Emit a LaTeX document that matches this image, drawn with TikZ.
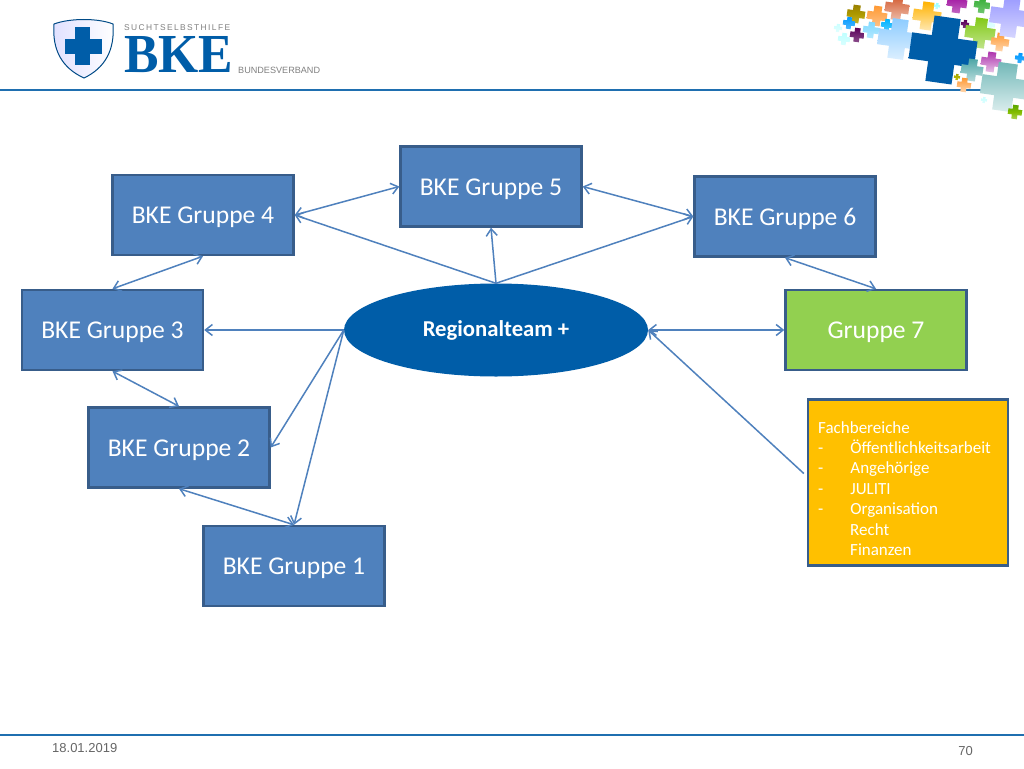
\documentclass[tikz,border=0pt]{standalone}
\usepackage{fontspec}
\setmainfont{Carlito}
\newfontfamily\arialf{Liberation Sans}
\newfontfamily\logof{Liberation Serif}
\usetikzlibrary{arrows.meta,shapes.geometric,calc}
\definecolor{boxfill}{HTML}{4F81BD}
\definecolor{boxline}{HTML}{385D8A}
\definecolor{bkeblue}{HTML}{005DA8}
\definecolor{rule}{HTML}{1F6FB0}
\definecolor{greenf}{HTML}{92D050}
\definecolor{amber}{HTML}{FFC000}
\tikzset{
 x=1pt,y=-1pt,
 gbox/.style={draw=boxline,line width=2.4pt,fill=boxfill,text=white,minimum width=181pt,minimum height=80pt,inner sep=0pt,text height=20pt,text depth=2.6pt,font=\fontsize{25.6}{30}\selectfont},
 link/.style={draw=boxfill,line width=1.5pt},
 both/.style={link,{Straight Barb[length=7pt,width=11pt]}-{Straight Barb[length=7pt,width=11pt]}},
 one/.style={link,-{Straight Barb[length=7pt,width=11pt]}},
}
\newcommand{\pluscross}[5]{% x y size colour fade
 \colorlet{crossc}{#4}
 \path[top color=crossc,bottom color=crossc!#5!white,shift={(#1,#2)},rotate=-8,scale=#3]
 (-.4,-1)--(.4,-1)--(.4,-.4)--(1,-.4)--(1,.4)--(.4,.4)--(.4,1)--(-.4,1)--(-.4,.4)--(-1,.4)--(-1,-.4)--(-.4,-.4)--cycle;}
\begin{document}
\begin{tikzpicture}[line cap=butt]
\useasboundingbox (0,0) rectangle (1024,768);
\fill[white] (0,0) rectangle (1024,768);
% rules
\draw[rule,line width=2pt] (0,89.5) -- (981,89.5);
\draw[rule,line width=2pt] (0,735) -- (1024,735);
% logo
\path[left color=blue!12,right color=white,draw=bkeblue!80!black,line width=1pt]
 (54,24) .. controls (70,18) and (98,18) .. (113,24) .. controls (115,50) and (105,68) .. (84,78) .. controls (62,68) and (52,50) .. (54,24) -- cycle;
\fill[bkeblue] (75,27) rectangle (90,65);
\fill[bkeblue] (65,39) rectangle (102,54);
\node[anchor=west,inner sep=0pt,text=gray,font=\arialf\fontsize{8.4}{9}\selectfont] (lg1) at (124,28) {S\,U\,C\,H\,T\,S\,E\,L\,B\,S\,T\,H\,I\,L\,F\,E};
\node[anchor=west,inner sep=0pt,text=bkeblue,font=\logof\fontsize{55}{55}\selectfont\bfseries] (lg2) at (124,55) {\scalebox{0.94}[1]{BKE}};
\node[anchor=west,inner sep=0pt,text=gray,font=\arialf\fontsize{9.1}{10}\selectfont] (lg3) at (238,70) {BUNDESVERBAND};
% crosses
\pluscross{856}{14}{9}{olive!80!orange}{60}
\pluscross{877}{16}{10}{orange!80}{60}
\pluscross{897}{8}{12}{brown!70!red}{40}
\pluscross{927}{16}{14}{orange!60!yellow}{30}
\pluscross{937}{6}{3}{cyan!40}{60}
\pluscross{849}{23}{6}{cyan!60!blue}{70}
\pluscross{871}{30}{8}{blue!30!cyan!50}{60}
\pluscross{887}{25}{6}{cyan!70!blue}{70}
\pluscross{857}{35}{7}{violet!70!black}{70}
\pluscross{838}{28}{4}{cyan!20}{60}
\pluscross{844}{39}{6}{cyan!25}{60}
\pluscross{898}{39}{20}{blue!45!cyan!45}{30}
\pluscross{957}{3}{10}{magenta!60!black}{60}
\pluscross{982}{5}{8}{green!60!black!80}{70}
\pluscross{965}{24}{4}{violet!70!black}{80}
\pluscross{990}{25}{5}{cyan!15}{80}
\pluscross{980}{33}{15}{olive!60!green!70}{50}
\pluscross{1000}{42}{9}{orange!80}{40}
\pluscross{1010}{17}{20}{blue!40!white}{40}
\pluscross{943}{50}{33}{bkeblue}{100}
\pluscross{972}{70}{11}{teal!70}{40}
\pluscross{991}{62}{10}{magenta!60!black!80}{30}
\pluscross{957}{77}{3}{olive!70!yellow}{70}
\pluscross{964}{85}{7}{orange!80}{40}
\pluscross{1005}{87}{24}{teal!55}{25}
\pluscross{1015}{112}{7}{olive!70!green}{50}
\pluscross{1020}{58}{5}{cyan!60!blue}{80}
\pluscross{984}{100}{3}{cyan!20}{70}
% nodes
\node[gbox] (g5) at (491,186.5) {BKE Gruppe 5};
\node[gbox] (g4) at (203,215) {BKE Gruppe 4};
\node[gbox] (g6) at (785,216.5) {BKE Gruppe 6};
\node[gbox] (g3) at (112.5,330) {BKE Gruppe 3};
\node[gbox,fill=greenf] (g7) at (876,330) {Gruppe 7};
\node[gbox] (g2) at (179,447.5) {BKE Gruppe 2};
\node[gbox] (g1) at (294,566) {BKE Gruppe 1};
\node[ellipse,fill=bkeblue,text=white,minimum width=304pt,minimum height=93pt,inner sep=0pt,text height=18pt,text depth=4.8pt,font=\fontsize{22.7}{26}\selectfont\bfseries] (rt) at (496,330) {Regionalteam +};
\node[draw=boxline,line width=2.4pt,fill=amber,minimum width=200pt,minimum height=166pt,inner sep=0pt] (fb) at (908,482.5) {};
\node[anchor=north west,inner sep=0pt,text=white,align=left,font=\fontsize{17}{20.4}\selectfont] (fbt) at (818,421) {Fachbereiche\\-\hspace{27pt}Öffentlichkeitsarbeit\\-\hspace{27pt}Angehörige\\-\hspace{27pt}JULITI\\-\hspace{27pt}Organisation\\\hspace{32pt}Recht\\\hspace{32pt}Finanzen};
% connector anchors
\coordinate (top) at (rt.north);
\coordinate (w) at (rt.west);
\coordinate (e) at (rt.east);
\coordinate (fbout) at ($(fb.west)+(-3,-9)$);
% connectors
\draw[both] (g4.east) -- (g5.west);
\draw[both] (g5.east) -- (g6.west);
\draw[one] (top) -- (g4.east);
\draw[one] (top) -- (g5.south);
\draw[one] (top) -- (g6.west);
\draw[both] (g4.south) -- (g3.north);
\draw[both] (g6.south) -- (g7.north);
\draw[both] (g3.south) -- (g2.north);
\draw[both] (g2.south) -- (g1.north);
\draw[one] (w) -- (g3.east);
\draw[one] (w) -- (g2.east);
\draw[one] (w) -- (g1.north);
\draw[both] (e) -- (g7.west);
\draw[one] (fbout) -- (e);
% footer
\node[anchor=west,inner sep=0pt,text=black!60,font=\arialf\fontsize{13}{15}\selectfont] (date) at (52,748) {18.01.2019};
\node[anchor=east,inner sep=0pt,text=black!60,font=\arialf\fontsize{13}{15}\selectfont] (num) at (973,751) {70};
\end{tikzpicture}
\end{document}
